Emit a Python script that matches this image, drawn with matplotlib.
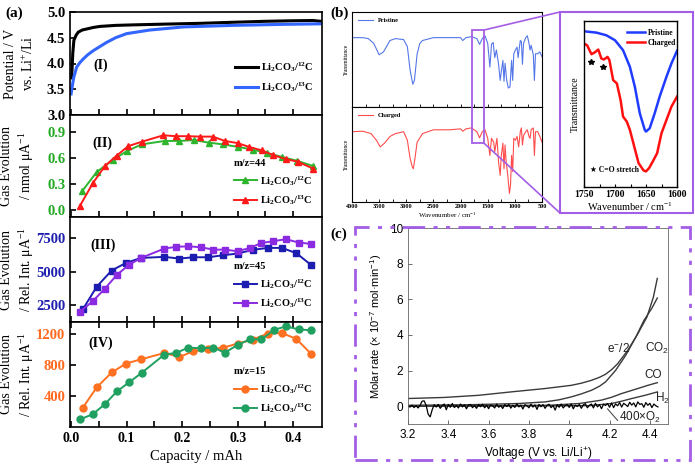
import numpy as np
import matplotlib
matplotlib.use("Agg")
import matplotlib.pyplot as plt
from matplotlib.patches import Rectangle
from matplotlib.lines import Line2D

plt.rcParams['font.family'] = ['Liberation Serif', 'DejaVu Serif']
plt.rcParams['font.weight'] = 'bold'
plt.rcParams['mathtext.default'] = 'regular'
plt.rcParams['axes.linewidth'] = 1.2

SANS = ['Liberation Sans', 'DejaVu Sans']

# ---- panel (a) data ----
# (I) potential
pot12_x = [0.001, 0.003, 0.005, 0.009, 0.013, 0.02, 0.028, 0.04, 0.052, 0.08, 0.112, 0.17, 0.232, 0.29, 0.352, 0.40, 0.436, 0.449]
pot12_y = [3.72, 4.20, 4.45, 4.55, 4.61, 4.65, 4.67, 4.70, 4.72, 4.74, 4.75, 4.765, 4.78, 4.80, 4.82, 4.83, 4.835, 4.82]
pot13_x = [0.0, 0.003, 0.005, 0.01, 0.016, 0.022, 0.03, 0.04, 0.052, 0.064, 0.08, 0.1, 0.142, 0.202, 0.292, 0.382, 0.449]
pot13_y = [3.41, 3.62, 3.74, 3.93, 4.02, 4.09, 4.17, 4.25, 4.33, 4.41, 4.50, 4.58, 4.65, 4.71, 4.74, 4.76, 4.77]

# (II) m/z=44
g44_12_x = [0.02, 0.046, 0.075, 0.1, 0.127, 0.169, 0.195, 0.222, 0.248, 0.274, 0.301, 0.327, 0.353, 0.38, 0.407, 0.436]
g44_12_y = [0.22, 0.44, 0.58, 0.68, 0.76, 0.80, 0.80, 0.81, 0.78, 0.76, 0.73, 0.70, 0.66, 0.615, 0.57, 0.51]
g44_13_x = [0.016, 0.039, 0.061, 0.082, 0.103, 0.127, 0.166, 0.189, 0.211, 0.232, 0.255, 0.277, 0.3, 0.321, 0.344, 0.364, 0.387, 0.408, 0.436]
g44_13_y = [0.05, 0.31, 0.51, 0.63, 0.74, 0.79, 0.865, 0.855, 0.855, 0.85, 0.85, 0.80, 0.775, 0.73, 0.69, 0.635, 0.59, 0.56, 0.48]

# (III) m/z=45
g45_12_x = [0.021, 0.046, 0.073, 0.099, 0.126, 0.168, 0.195, 0.22, 0.247, 0.274, 0.3, 0.327, 0.354, 0.38, 0.406, 0.433]
g45_12_y = [2190, 3880, 5100, 5670, 6040, 6120, 5990, 6090, 6090, 6240, 6370, 6640, 6790, 6790, 6390, 5490]
g45_13_x = [0.016, 0.039, 0.061, 0.083, 0.105, 0.126, 0.168, 0.189, 0.211, 0.234, 0.256, 0.277, 0.3, 0.322, 0.343, 0.364, 0.387, 0.41, 0.432]
g45_13_y = [2010, 2810, 3750, 4800, 5540, 6040, 6740, 6870, 6910, 6840, 6660, 6660, 6540, 6790, 7160, 7290, 7440, 7190, 7090]

# (IV) m/z=15
g15_12_x = [0.021, 0.046, 0.073, 0.099, 0.126, 0.168, 0.195, 0.22, 0.247, 0.274, 0.3, 0.327, 0.354, 0.38, 0.406, 0.433]
g15_12_y = [249, 512, 706, 822, 877, 959, 907, 981, 1006, 1028, 1080, 1132, 1209, 1217, 1140, 942]
g15_13_x = [0.016, 0.039, 0.061, 0.083, 0.105, 0.127, 0.168, 0.189, 0.211, 0.234, 0.256, 0.277, 0.3, 0.322, 0.343, 0.366, 0.387, 0.41, 0.432]
g15_13_y = [99, 165, 297, 464, 581, 701, 938, 959, 1028, 1020, 1028, 964, 1062, 1135, 1135, 1260, 1303, 1265, 1252]

# ---- panel (b) data: FTIR ----
ir_wn_p = [4000, 3800, 3700, 3600, 3500, 3420, 3300, 3200, 3050, 2980, 2930, 2880, 2850, 2800, 2750, 2700,
           2500, 2200, 2000, 1960, 1900, 1800, 1700, 1650, 1600, 1550, 1500, 1460, 1430, 1400, 1370, 1340,
           1300, 1270, 1250, 1220, 1200, 1180, 1150, 1120, 1090, 1060, 1040, 1020, 990, 960, 940, 900, 880,
           860, 840, 800, 770, 740, 720, 700, 660, 640, 620, 580, 540, 500]
ir_pristine = [0.73, 0.73, 0.72, 0.67, 0.55, 0.58, 0.70, 0.72, 0.71, 0.635, 0.39, 0.24, 0.28, 0.56, 0.67, 0.70,
               0.73, 0.73, 0.73, 0.70, 0.73, 0.74, 0.72, 0.66, 0.72, 0.75, 0.67, 0.42, 0.66, 0.68, 0.52, 0.60,
               0.45, 0.28, 0.37, 0.49, 0.27, 0.46, 0.28, 0.20, 0.21, 0.49, 0.28, 0.56, 0.60, 0.63, 0.52, 0.70, 0.69,
               0.45, 0.67, 0.73, 0.75, 0.67, 0.60, 0.65, 0.55, 0.28, 0.56, 0.56, 0.58, 0.53]
ir_wn_c = [4000, 3800, 3650, 3550, 3480, 3400, 3300, 3200, 3050, 2980, 2930, 2890, 2870, 2840, 2800, 2700,
           2500, 2200, 2000, 1960, 1900, 1800, 1700, 1650, 1600, 1550, 1500, 1460, 1430, 1390, 1370, 1330,
           1300, 1270, 1250, 1220, 1200, 1180, 1160, 1130, 1100, 1080, 1060, 1040, 1020, 990, 960, 930, 900, 880,
           860, 840, 800, 770, 740, 720, 700, 660, 640, 620, 580, 540, 500]
ir_charged = [0.74, 0.745, 0.72, 0.65, 0.58, 0.62, 0.69, 0.72, 0.74, 0.65, 0.46, 0.37, 0.35, 0.46, 0.63, 0.72,
              0.76, 0.76, 0.77, 0.745, 0.77, 0.78, 0.74, 0.675, 0.74, 0.76, 0.67, 0.49, 0.67, 0.63, 0.53, 0.67,
              0.42, 0.28, 0.49, 0.62, 0.35, 0.60, 0.42, 0.28, 0.09, 0.18, 0.49, 0.32, 0.67, 0.65, 0.69, 0.58, 0.74, 0.78,
              0.60, 0.70, 0.74, 0.76, 0.69, 0.67, 0.76, 0.78, 0.49, 0.74, 0.74, 0.69, 0.63]

# zoomed C=O region
zp_wn = [1750, 1730, 1714, 1700, 1687, 1676, 1668, 1660, 1652, 1650, 1644, 1636, 1628, 1617, 1609, 1600]
zp_val = [0.938, 0.93, 0.914, 0.884, 0.824, 0.724, 0.604, 0.444, 0.344, 0.334, 0.354, 0.444, 0.544, 0.664, 0.744, 0.82]
zc_wn = [1750, 1745, 1738, 1733, 1727, 1722, 1718, 1712, 1709, 1703, 1697, 1691, 1687, 1681, 1676, 1669, 1662,
         1654, 1650, 1645, 1639, 1632, 1625, 1617, 1609, 1600]
zc_val = [0.864, 0.854, 0.80, 0.81, 0.828, 0.774, 0.768, 0.784, 0.764, 0.644, 0.624, 0.524, 0.424, 0.394, 0.344,
          0.244, 0.144, 0.10, 0.094, 0.114, 0.154, 0.204, 0.324, 0.404, 0.484, 0.544]
star_wn = [1738, 1720]
star_val = [0.754, 0.724]

# ---- panel (c) data: molar rates ----
e_v = [3.2, 3.38, 3.55, 3.71, 3.88, 4.01, 4.06, 4.11, 4.15, 4.18, 4.21, 4.24, 4.29, 4.34, 4.385, 4.417, 4.437]
e_rate = [0.43, 0.49, 0.61, 0.80, 0.99, 1.17, 1.29, 1.45, 1.62, 1.79, 2.05, 2.38, 3.13, 4.06, 4.99, 6.1, 7.17]
co2_v = [3.2, 3.5, 3.75, 3.88, 3.95, 4.01, 4.06, 4.11, 4.15, 4.18, 4.23, 4.28, 4.33, 4.37, 4.41, 4.437]
co2_rate = [0.05, 0.08, 0.15, 0.24, 0.36, 0.52, 0.69, 0.89, 1.12, 1.36, 2.01, 2.85, 3.87, 4.8, 5.5, 6.07]
co_v = [3.2, 3.9, 4.05, 4.16, 4.21, 4.26, 4.30, 4.34, 4.39, 4.437]
co_rate = [0.0, 0.05, 0.15, 0.34, 0.50, 0.71, 0.85, 0.99, 1.17, 1.32]
h2_v = [3.2, 4.1, 4.21, 4.26, 4.31, 4.376, 4.437]
h2_rate = [0.0, 0.03, 0.15, 0.28, 0.43, 0.61, 0.80]
o2_rate = [0.02, -0.05, 0.06, -0.08, 0.03, -0.10, 0.05, 0.28, 0.30, 0.05,
           -0.45, -0.60, -0.20, 0.08, -0.05, 0.10, -0.12, 0.04, 0.12, -0.20,
           0.10, -0.06, 0.15, -0.08, 0.05, -0.10, 0.12, -0.04, 0.08, -0.15,
           0.06, 0.10, -0.08, 0.04, -0.12, 0.09, -0.03, 0.11, -0.09, 0.05,
           -0.14, 0.07, 0.02, -0.10, 0.12, -0.06, 0.04, -0.13, 0.09, -0.02,
           0.10, -0.11, 0.05, -0.07, 0.13, -0.04, 0.06, -0.16, 0.08, 0.03,
           -0.09, 0.12, -0.05, 0.07, -0.18, 0.10, -0.03, 0.09, -0.12, 0.05,
           0.11, -0.08, 0.04, -0.22, 0.08, -0.06, 0.12, -0.10, 0.03, 0.09,
           -0.07, 0.13, -0.15, 0.06, -0.02, 0.10, -0.12, 0.08, 0.14, -0.09,
           0.05, 0.12, -0.10, 0.16, -0.04, 0.09, -0.14, 0.11, 0.04, 0.15,
           -0.06, 0.18, -0.08, 0.13, 0.02, 0.20, -0.05, 0.16, 0.08, -0.02,
           0.22, 0.06, 0.18, -0.04, 0.24, 0.10, 0.14, -0.06, 0.20, 0.05,
           0.16, -0.08, 0.12, 0.02, -0.04]
o2_v = np.linspace(3.2, 4.44, len(o2_rate))

W, H = 695, 468
fig = plt.figure(figsize=(W / 100, H / 100), dpi=100)


def box(l, t, r, b):
    return [l / W, 1 - b / H, (r - l) / W, (b - t) / H]


PURPLE = '#a45ee5'

# ================= panel (a) =================
axI = fig.add_axes(box(70, 12, 322, 115))
axII = fig.add_axes(box(70, 115, 322, 217))
axIII = fig.add_axes(box(70, 217, 322, 322))
axIV = fig.add_axes(box(70, 322, 322, 427))

for ax in (axI, axII, axIII, axIV):
    ax.set_xlim(-0.002, 0.452)
    ax.set_xticks([0.0, 0.1, 0.2, 0.3, 0.4])
    ax.set_xticks(np.arange(0.05, 0.45, 0.1), minor=True)
    ax.tick_params(which='both', direction='in', length=4, width=1.2, labelsize=10)
    ax.tick_params(axis='y', labelsize=10.5)
    ax.tick_params(axis='x', which='both', labelbottom=False)
axIV.tick_params(axis='x', which='both', labelbottom=True, top=True)
axIV.set_xticks([0.0, 0.1, 0.2, 0.3, 0.4], ['0.0', '0.1', '0.2', '0.3', '0.4'])

lab12 = r'Li$_2$CO$_3$/$^{12}$C'
lab13 = r'Li$_2$CO$_3$/$^{13}$C'
leg_kw = dict(loc='upper left', frameon=False, fontsize=7.5, handlelength=2.2, handletextpad=0.3,
              labelspacing=0.55, borderpad=0)

axI.plot(pot12_x, pot12_y, color='black', lw=2.2, label=lab12)
axI.plot(pot13_x, pot13_y, color='#3366ff', lw=2.2, label=lab13)
axI.set_ylim(3.0, 5.0)
axI.set_yticks([3.0, 3.5, 4.0, 4.5, 5.0])
axI.set_ylabel('Potential / V\nvs. Li$^{+}$/Li', fontsize=10, linespacing=1.3)
axI.legend(bbox_to_anchor=(0.635, 0.58), **leg_kw)
axI.text(0.12, 0.485, '(I)', transform=axI.transAxes, fontsize=10, ha='center', va='center')

mk = dict(ms=5, lw=1.4)
axII.plot(g44_12_x, g44_12_y, '-^', color='#2db52d', label=lab12, **mk)
axII.plot(g44_13_x, g44_13_y, '-^', color='#ff1a1a', label=lab13, **mk)
axII.set_ylim(-0.08, 1.1)
axII.set_yticks([0.0, 0.3, 0.6, 0.9])
axII.tick_params(axis='y', labelcolor='#22aa22')
axII.set_ylabel('Gas Evolution\n/ nmol μA$^{-1}$', fontsize=10, linespacing=1.3)
axII.text(0.13, 0.725, '(II)', transform=axII.transAxes, fontsize=10, ha='center', va='center')

axIII.plot(g45_12_x, g45_12_y, '-s', color='#1c1cb0', label=lab12, **mk)
axIII.plot(g45_13_x, g45_13_y, '-s', color='#8a2be2', label=lab13, **mk)
axIII.set_ylim(1250, 9100)
axIII.set_yticks([2500, 5000, 7500])
axIII.tick_params(axis='y', labelcolor='#2020b0')
axIII.set_ylabel('Gas Evolution\n/ Rel. Int. μA$^{-1}$', fontsize=10, linespacing=1.3)
axIII.text(0.13, 0.733, '(III)', transform=axIII.transAxes, fontsize=10, ha='center', va='center')

axIV.plot(g15_12_x, g15_12_y, '-o', color='#ff7020', label=lab12, **mk)
axIV.plot(g15_13_x, g15_13_y, '-o', color='#20a060', label=lab13, **mk)
axIV.set_ylim(0, 1360)
axIV.set_yticks([400, 800, 1200])
axIV.tick_params(axis='y', labelcolor='#ff6a20')
axIV.set_ylabel('Gas Evolution\n/ Rel. Int. μA$^{-1}$', fontsize=10, linespacing=1.3)
axIV.set_xlabel('Capacity / mAh', fontsize=10.5)
axIV.text(0.12, 0.8, '(IV)', transform=axIV.transAxes, fontsize=10, ha='center', va='center')

for ax, title in ((axII, 'm/z=44'), (axIII, 'm/z=45'), (axIV, 'm/z=15')):
    ax.legend(bbox_to_anchor=(0.63, 0.62), title=title,
              title_fontproperties={'weight': 'bold', 'size': 7.5}, alignment='left', **leg_kw)

for ax in (axI, axII, axIII, axIV):
    ax.yaxis.set_label_coords(-0.135, 0.5)

# ================= panel (b) =================
axT = fig.add_axes(box(352, 12, 542, 107))
axB = fig.add_axes(box(352, 107, 542, 202))
axT.plot(ir_wn_p, ir_pristine, color='#5577e8', lw=0.8, label='Pristine')
axB.plot(ir_wn_c, ir_charged, color='#ff4d4d', lw=0.8, label='Charged')
for ax in (axT, axB):
    ax.set_xlim(4000, 500)
    ax.set_ylim(0, 1)
    ax.set_xticks(np.arange(500, 4001, 500))
    ax.set_xticks(np.arange(750, 4000, 500), minor=True)
    ax.set_yticks([])
    ax.tick_params(which='both', direction='in', length=2, width=0.6, labelsize=4.5, pad=1.5)
    for s in ax.spines.values():
        s.set_linewidth(0.8)
    ax.set_ylabel('Transmittance', fontsize=4, labelpad=2)
    ax.legend(loc='upper left', frameon=False, fontsize=4.5, handlelength=2.5, borderaxespad=0.5)
axT.tick_params(axis='x', labelbottom=False)
axB.set_xlabel('Wavenumber / cm$^{-1}$', fontsize=5, labelpad=1)

axZ = fig.add_axes(box(584, 21, 677, 187))
axZ.plot(zp_wn, zp_val, color='#1f3cff', lw=1.8, label='Pristine')
axZ.plot(zc_wn, zc_val, color='#ff1010', lw=1.8, label='Charged')
axZ.plot(star_wn, star_val, '*', color='black', ms=4)
axZ.set_xlim(1750, 1600)
axZ.set_ylim(0, 1)
axZ.set_xticks([1750, 1700, 1650, 1600])
axZ.set_xticks([1725, 1675, 1625], minor=True)
axZ.set_yticks([])
axZ.tick_params(which='both', direction='in', length=2.5, width=0.8, labelsize=7, pad=2)
for s in axZ.spines.values():
    s.set_linewidth(1.0)
axZ.set_xlabel('Wavenumber / cm$^{-1}$', fontsize=7.5, labelpad=1)
axZ.set_ylabel('Transmittance', fontsize=7, labelpad=3)
axZ.legend(loc='upper left', bbox_to_anchor=(0.4, 0.985), frameon=False, fontsize=5.5,
           handlelength=2.4, handletextpad=0.4, labelspacing=0.25, borderpad=0.2)
axZ.text(0.06, 0.1, '★ C=O stretch', transform=axZ.transAxes, fontsize=5.5,
         family=['Liberation Serif', 'DejaVu Sans'], va='center')

# zoom window and connectors
inv = fig.transFigure.inverted()
rx0, ry1 = inv.transform(axT.transData.transform((1790, 0.81)))
rx1, ry0 = inv.transform(axB.transData.transform((1570, 0.62)))
fig.add_artist(Rectangle((rx0, ry0), rx1 - rx0, ry1 - ry0, transform=fig.transFigure,
                         fill=False, ec=PURPLE, lw=1.3))
bx0, by0, bw, bh = box(560, 12, 693, 213)
fig.add_artist(Rectangle((bx0, by0), bw, bh, transform=fig.transFigure, fill=False, ec=PURPLE, lw=1.5))
fig.add_artist(Line2D([rx1, bx0], [ry1, by0 + bh], transform=fig.transFigure, color=PURPLE, lw=1.2))
fig.add_artist(Line2D([rx1, bx0], [ry0, by0], transform=fig.transFigure, color=PURPLE, lw=1.2))

# ================= panel (c) =================
axC = fig.add_axes(box(408, 228, 668, 424))
gray = '#3a3a3a'
axC.plot(e_v, e_rate, color=gray, lw=1.0)
axC.plot(co2_v, co2_rate, color=gray, lw=1.0)
axC.plot(co_v, co_rate, color=gray, lw=1.0)
axC.plot(h2_v, h2_rate, color=gray, lw=1.0)
axC.plot(o2_v, o2_rate, color='black', lw=0.9)
axC.set_xlim(3.2, 4.49)
axC.set_ylim(-1, 10)
axC.set_xticks([3.2, 3.4, 3.6, 3.8, 4.0, 4.2, 4.4], ['3.2', '3.4', '3.6', '3.8', '4', '4.2', '4.4'],
               family=SANS, weight='normal', fontsize=8.5)
axC.set_yticks([0, 2, 4, 6, 8, 10], ['0', '2', '4', '6', '8', '10'], family=SANS, weight='normal', fontsize=8.5)
axC.tick_params(direction='in', length=3, width=0.6, color='#555555')
for s in axC.spines.values():
    s.set_linewidth(0.6)
    s.set_color('#666666')
axC.set_xlabel('Voltage (V vs. Li/Li$^{+}$)', family=SANS, weight='normal', fontsize=8.5, labelpad=3)
axC.set_ylabel('Molar rate (× 10$^{-7}$ mol·min$^{-1}$)', family=SANS, weight='normal', fontsize=8, labelpad=4)
tk = dict(family=SANS, weight='normal', fontsize=8.5, color='#222222')
axC.text(4.30, 3.25, 'e$^{-}$/2', ha='right', va='center', **tk)
axC.text(4.375, 3.25, 'CO$_2$', ha='left', va='center', **tk)
axC.text(4.375, 1.73, 'CO', ha='left', va='center', **tk)
axC.text(4.425, 0.45, 'H$_2$', ha='left', va='center', **tk)
axC.text(4.245, -0.65, '400×O$_2$', ha='left', va='center', **tk)
axC.plot([4.19, 4.24], [-0.15, -0.8], color=gray, lw=0.7)

fig.add_artist(Rectangle((355 / W, 1 - 460 / H), 335 / W, 233 / H, transform=fig.transFigure,
                         fill=False, ec=PURPLE, lw=2, ls=(0, (8, 3, 1.5, 3, 1.5, 3))))

# panel letters
fig.text(5 / W, 1 - 13 / H, '(a)', fontsize=11, va='center')
fig.text(330 / W, 1 - 13 / H, '(b)', fontsize=11, va='center')
fig.text(330 / W, 1 - 234 / H, '(c)', fontsize=11, va='center')

fig.savefig('out.png', dpi=100)
